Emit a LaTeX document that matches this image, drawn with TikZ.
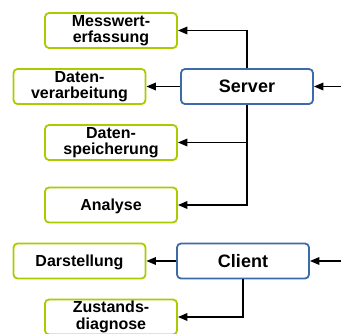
\documentclass[tikz,border=0pt]{standalone}
\usepackage{fontspec}
\setmainfont{Liberation Sans}
\usetikzlibrary{arrows.meta}
\definecolor{fgreen}{HTML}{A9CC00}
\definecolor{fblue}{HTML}{3B6BA8}
\begin{document}
\begin{tikzpicture}[x=1pt,y=-1pt,
  fbox/.style={draw=fgreen,line width=1.8pt,rounded corners=4pt,fill=white,
    minimum width=132pt,minimum height=35pt,inner sep=0pt,align=center,
    font=\fontsize{16}{16.5}\selectfont\bfseries},
  oneline/.style={text depth=0pt},
  mbox/.style={draw=fblue,line width=1.8pt,rounded corners=4pt,fill=white,
    minimum width=132pt,minimum height=35pt,inner sep=0pt,align=center,
    font=\fontsize{18}{20}\selectfont\bfseries},
  conn/.style={line width=1.8pt,-{Triangle[length=9.5pt,width=7.5pt]}}]
\useasboundingbox (0,0) rectangle (341,333);
\node[fbox] (mess) at (111,30.5) {Messwert-\\erfassung};
\node[fbox] (verarb) at (79.5,86.5) {Daten-\\verarbeitung};
\node[mbox] (server) at (247,86.5) {Server};
\node[fbox] (speich) at (111,142.5) {Daten-\\speicherung};
\node[fbox,oneline] (analyse) at (111,205) {Analyse};
\node[fbox,oneline] (darst) at (79.5,261) {Darstellung};
\node[mbox] (client) at (243,261) {Client};
\node[fbox] (zust) at (111,317) {Zustands-\\diagnose};
\coordinate (sin) at (341,86.5);
\coordinate (cin) at (341,261);
\draw[conn] (server.north) |- (mess.east);
\draw[conn] (server.west) -- (verarb.east);
\draw[conn] (server.south) |- (speich.east);
\draw[conn] (server.south) |- (analyse.east);
\draw[conn] (sin) -- (server.east);
\draw[conn] (client.west) -- (darst.east);
\draw[conn] (client.south) |- (zust.east);
\draw[conn] (cin) -- (client.east);
\end{tikzpicture}
\end{document}
